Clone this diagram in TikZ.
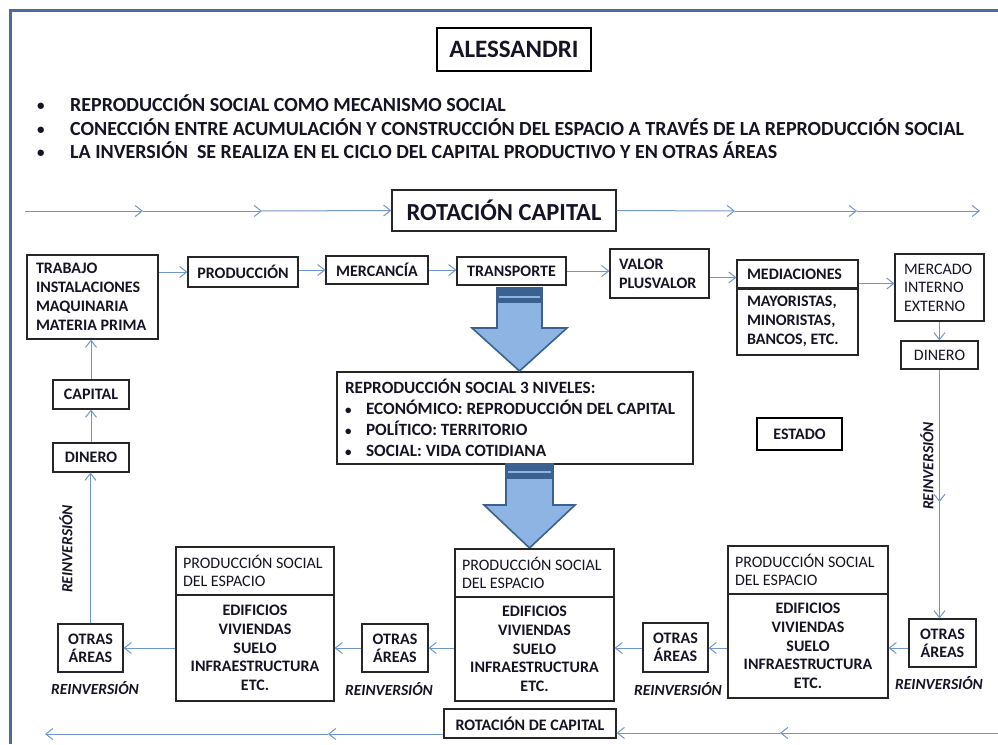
\documentclass[tikz,border=0pt]{standalone}
\usepackage{fontspec}
\setmainfont{Carlito}
\usetikzlibrary{arrows.meta}
\definecolor{frameblue}{HTML}{4A6B9B}
\definecolor{connblue}{HTML}{7196C9}
\definecolor{arrfill}{HTML}{8DB4E2}
\definecolor{arrline}{HTML}{3B6190}
\definecolor{ink}{HTML}{141425}
\newcommand{\smbul}{{\fontsize{13}{13}\selectfont\raisebox{0.5pt}{•}}}
\begin{document}
\begin{tikzpicture}[x=1pt,y=-1pt,
  every node/.style={text=ink},
  box/.style={draw=black!85, line width=1.1pt, inner sep=0pt, align=center,
    font=\fontsize{16}{19}\selectfont\bfseries},
  lbox/.style={box, align=flush left},
  thickbox/.style={draw=black, line width=2.4pt, inner sep=0pt, align=center},
  conn/.style={draw=connblue, line width=1pt, -{Straight Barb[length=7pt,width=11pt]}},
  rein/.style={font=\fontsize{15.5}{19}\selectfont\bfseries\itshape, inner sep=0pt},
  bullet/.style={font=\fontsize{20}{24}\selectfont\bfseries, inner sep=0pt, anchor=base west},
  bigarrow/.style={fill=arrfill, draw=arrline, line width=1.6pt, line join=miter}
]
\useasboundingbox (0,0) rectangle (998,744);
% frame
\draw[frameblue, line width=3pt] (10,744) -- (10,10) -- (998,10);

% title
\node[thickbox, minimum width=154, minimum height=43, font=\fontsize{25}{30}\selectfont\bfseries] (title) at (514,49.5) {ALESSANDRI};

% bullet lines
\node[bullet, font=\fontsize{15}{15}\selectfont\bfseries] (d1) at (37,110) {•};
\node[bullet] (l1) at (70,111) {REPRODUCCIÓN SOCIAL COMO MECANISMO SOCIAL};
\node[bullet, font=\fontsize{15}{15}\selectfont\bfseries] (d2) at (37,134) {•};
\node[bullet] (l2) at (70,135) {CONECCIÓN ENTRE ACUMULACIÓN Y CONSTRUCCIÓN DEL ESPACIO A TRAVÉS DE LA REPRODUCCIÓN SOCIAL};
\node[bullet, font=\fontsize{15}{15}\selectfont\bfseries] (d3) at (37,157) {•};
\node[bullet] (l3) at (70,158) {LA INVERSIÓN\ \ SE REALIZA EN EL CICLO DEL CAPITAL PRODUCTIVO Y EN OTRAS ÁREAS};

% rotacion capital (top)
\node[box, line width=1.3pt, minimum width=224, minimum height=41, font=\fontsize{24.5}{29}\selectfont\bfseries] (rot) at (504,210.5) {ROTACIÓN CAPITAL};
\coordinate (ta) at (25,211);
\coordinate (tb) at (143,211);
\coordinate (tc) at (262,211);
\coordinate (td) at (735,211);
\coordinate (te) at (857,211);
\coordinate (tf) at (980,211);
\draw[conn] (ta) -- (tb);
\draw[conn] (tb) -- (tc);
\draw[conn] (tc) -- (rot.west);
\draw[conn] (rot.east) -- (td);
\draw[conn] (td) -- (te);
\draw[conn] (te) -- (tf);

% top row
\node[lbox, text width=113, inner xsep=9, minimum height=84] (trab) at (92.5,297) {TRABAJO\\INSTALACIONES\\MAQUINARIA\\MATERIA PRIMA};
\node[box, minimum width=110, minimum height=30] (prod) at (243,272) {PRODUCCIÓN};
\node[box, minimum width=102, minimum height=28] (merc) at (377,270) {MERCANCÍA};
\node[box, minimum width=109, minimum height=28] (trans) at (511.5,271) {TRANSPORTE};
\node[lbox, text width=81, inner xsep=9, minimum height=49] (valor) at (659.5,273.5) {VALOR\\PLUSVALOR};
\node[lbox, text width=101, inner xsep=10, minimum height=28] (medh) at (797.5,274) {MEDIACIONES};
\node[lbox, text width=101, inner xsep=10, minimum height=67] (medb) at (797.5,321.5) {MAYORISTAS,\\MINORISTAS,\\BANCOS, ETC.};
\draw[black!85, line width=2pt] (medh.south west) -- (medh.south east);
\node[lbox, text width=71, inner xsep=9, minimum height=67, font=\fontsize{16}{18.5}\selectfont] (mercado) at (939.5,287.5) {MERCADO\\INTERNO\\EXTERNO};
\node[box, minimum width=77, minimum height=28, font=\fontsize{16}{18.5}\selectfont] (dinR) at (939.5,355) {DINERO};

\draw[conn] (trab.east |- prod.west) -- (prod.west);
\draw[conn] (prod.east |- merc.east) -- (merc.west);
\draw[conn] (merc.east) -- (merc.east -| trans.west);
\draw[conn] (trans.east) -- (trans.east -| valor.west);
\draw[conn] ([yshift=-4pt]valor.east) -- ([yshift=-4pt]valor.east -| medh.west);
\draw[conn] ([yshift=5pt]medh.south east) -- ([yshift=5pt]medh.south east -| mercado.west);
\draw[conn] (mercado.south) -- (dinR.north);

% left column
\node[box, minimum width=76, minimum height=29] (capital) at (91,394.5) {CAPITAL};
\node[box, minimum width=76, minimum height=29] (dinL) at (91,457.5) {DINERO};
\draw[conn] (capital.north) -- (capital.north |- trab.south);
\draw[conn] (dinL.north) -- (capital.south);

% central box
\node[lbox, text width=340, inner xsep=8, minimum height=92, font=\fontsize{17.2}{21}\selectfont\bfseries] (repro) at (515,418)
  {REPRODUCCIÓN SOCIAL 3 NIVELES:\\
   \makebox[21pt][l]{\smbul}ECONÓMICO: REPRODUCCIÓN DEL CAPITAL\\
   \makebox[21pt][l]{\smbul}POLÍTICO: TERRITORIO\\
   \makebox[21pt][l]{\smbul}SOCIAL: VIDA COTIDIANA};
\node[thickbox, line width=2.2pt, minimum width=85, minimum height=32, font=\fontsize{16}{19}\selectfont\bfseries] (estado) at (799.5,434) {ESTADO};

% big arrows
\draw[bigarrow] (497,288) -- (542,288) -- (542,328) -- (567,328) -- (519.5,371) -- (472,328) -- (497,328) -- cycle;
\fill[arrline] (497,288) rectangle (542,303);
\draw[arrfill, line width=1.3pt] (499,297) -- (540,297);
\draw[bigarrow] (506,464) -- (553,464) -- (553,505) -- (575,505) -- (529.5,548) -- (484,505) -- (506,505) -- cycle;
\fill[arrline] (506,464) rectangle (553,479);
\draw[arrfill, line width=1.3pt] (508,472) -- (551,472);

% bottom row: produccion social del espacio
\node[lbox, text width=144, inner xsep=7, minimum height=48, font=\fontsize{16}{18}\selectfont] (p1h) at (255,571) {PRODUCCIÓN SOCIAL\\DEL ESPACIO};
\node[box, minimum width=158, minimum height=106, font=\fontsize{16}{18.7}\selectfont\bfseries] (p1b) at (255,648) {EDIFICIOS\\VIVIENDAS\\SUELO\\INFRAESTRUCTURA\\ETC.};
\node[lbox, text width=145, inner xsep=7, minimum height=48, font=\fontsize{16}{18}\selectfont] (p2h) at (534.5,573) {PRODUCCIÓN SOCIAL\\DEL ESPACIO};
\node[box, minimum width=159, minimum height=104, font=\fontsize{16}{18.7}\selectfont\bfseries] (p2b) at (534.5,649) {EDIFICIOS\\VIVIENDAS\\SUELO\\INFRAESTRUCTURA\\ETC.};
\node[lbox, text width=146, inner xsep=7, minimum height=48, font=\fontsize{16}{18}\selectfont] (p3h) at (808,570) {PRODUCCIÓN SOCIAL\\DEL ESPACIO};
\node[box, minimum width=160, minimum height=104, font=\fontsize{16}{18.7}\selectfont\bfseries] (p3b) at (808,646) {EDIFICIOS\\VIVIENDAS\\SUELO\\INFRAESTRUCTURA\\ETC.};

% otras areas
\node[box, minimum width=65, minimum height=48, font=\fontsize{16}{18}\selectfont\bfseries] (o1) at (90.5,648) {OTRAS\\ÁREAS};
\node[box, minimum width=66, minimum height=48, font=\fontsize{16}{18}\selectfont\bfseries] (o2) at (395,648) {OTRAS\\ÁREAS};
\node[box, minimum width=65, minimum height=49, font=\fontsize{16}{18}\selectfont\bfseries] (o3) at (675.5,647.5) {OTRAS\\ÁREAS};
\node[box, minimum width=67, minimum height=48, font=\fontsize{16}{18}\selectfont\bfseries] (o4) at (942.5,643) {OTRAS\\ÁREAS};

\coordinate (row) at (0,648);
\draw[conn] (o4.west |- row) -- (p3b.east |- row);
\draw[conn] (p3b.west |- row) -- (o3.east |- row);
\draw[conn] (o3.west |- row) -- (p2b.east |- row);
\draw[conn] (p2b.west |- row) -- (o2.east |- row);
\draw[conn] (o2.west |- row) -- (p1b.east |- row);
\draw[conn] (p1b.west |- row) -- (o1.east |- row);

% reinversion loops
\coordinate (rmid) at (939.5,502);
\draw[conn] (dinR.south) -- (rmid);
\draw[conn] (rmid) -- (rmid |- o4.north);
\draw[conn] (o1.north) -- (o1.north |- dinL.south);

\node[rein, rotate=90] (rv1) at (66,549) {REINVERSIÓN};
\node[rein, rotate=90] (rv2) at (927,466) {REINVERSIÓN};
\node[rein] (r1) at (95,688) {REINVERSIÓN};
\node[rein] (r2) at (389,689) {REINVERSIÓN};
\node[rein] (r3) at (678,689) {REINVERSIÓN};
\node[rein] (r4) at (939,683) {REINVERSIÓN};

% rotacion de capital (bottom)
\node[box, line width=1.3pt, minimum width=172, minimum height=29] (rotb) at (530,723.5) {ROTACIÓN DE CAPITAL};
\coordinate (ba) at (998,733);
\coordinate (bb) at (780,733);
\coordinate (bc) at (328,734);
\coordinate (bd) at (45,734);
\draw[conn] (ba) -- (bb);
\draw[conn] (bb) -- (bb -| rotb.east);
\draw[conn] (bc -| rotb.west) -- (bc);
\draw[conn] (bc) -- (bd);
\end{tikzpicture}
\end{document}
